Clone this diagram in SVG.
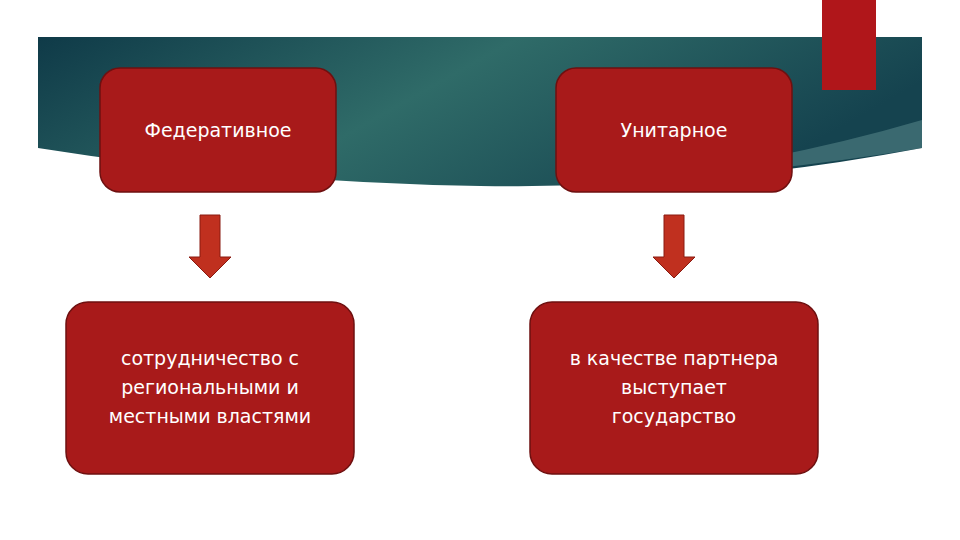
<svg xmlns="http://www.w3.org/2000/svg" width="960" height="540" viewBox="0 0 960 540">
<defs>
<linearGradient id="bg" x1="0" y1="0" x2="1" y2="0.3">
<stop offset="0" stop-color="#0f3a48"/><stop offset="0.5" stop-color="#2f6b68"/><stop offset="1" stop-color="#15434f"/>
</linearGradient>
<style>
.box{fill:#a81a1a;stroke:#6e1010;stroke-width:1.5}
.arr{fill:#c0301f;stroke:#8a1a10;stroke-width:1}
text{font-family:"DejaVu Sans","Liberation Sans",sans-serif;font-size:19px;fill:#fff;text-anchor:middle}
</style>
</defs>
<rect width="960" height="540" fill="#fff"/>
<path d="M38 37 H922 V148 Q700 190 480 186 Q250 182 38 148 Z" fill="url(#bg)"/>
<path d="M700 170 Q820 150 922 120 V148 Q820 165 700 176 Z" fill="#5f8f92" opacity="0.5"/>
<rect x="822" y="0" width="54" height="90" fill="#b0161a"/>
<g id="fed"><rect class="box" x="100" y="68" width="236" height="124" rx="20"/><text x="218" y="137">Федеративное</text></g>
<g id="uni"><rect class="box" x="556" y="68" width="236" height="124" rx="20"/><text x="674" y="137">Унитарное</text></g>
<g id="coop"><rect class="box" x="66" y="302" width="288" height="172" rx="22"/>
<text x="210" y="365">сотрудничество с</text><text x="210" y="394">региональными и</text><text x="210" y="423">местными властями</text></g>
<g id="part"><rect class="box" x="530" y="302" width="288" height="172" rx="22"/>
<text x="674" y="365">в качестве партнера</text><text x="674" y="394">выступает</text><text x="674" y="423">государство</text></g>
<g id="connectors">
<path class="arr" d="M200 215 H220 V257 H231 L210 278 L189 257 H200 Z"/>
<path class="arr" d="M664 215 H684 V257 H695 L674 278 L653 257 H664 Z"/>
</g>
</svg>
